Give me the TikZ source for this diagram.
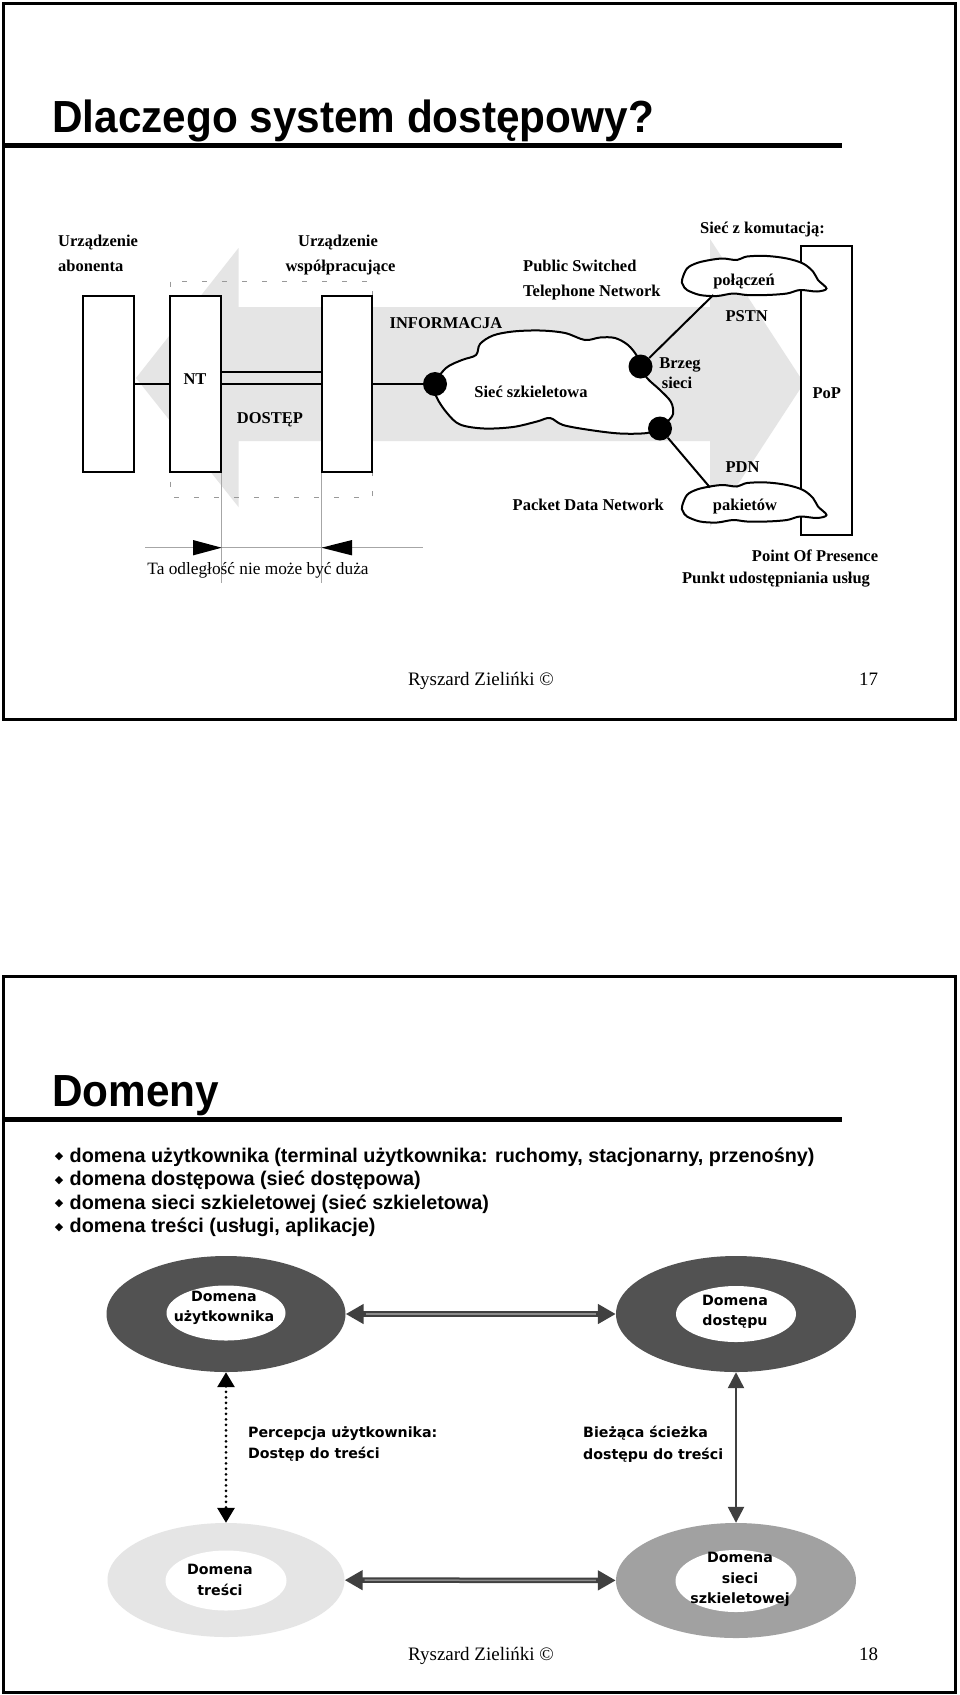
\documentclass[tikz,border=0pt]{standalone}
\usepackage{fontspec}
\setmainfont{Liberation Serif}
\newfontfamily\arialf{Liberation Sans}
\newfontfamily\titlef{Liberation Sans}[FakeStretch=0.94]
\newfontfamily\comicf{DejaVu Sans}
\usetikzlibrary{shapes.geometric,arrows.meta}
\begin{document}
\begin{tikzpicture}[x=1pt,y=-1pt,
  tl/.style={inner sep=0pt,font=\fontsize{16.5}{19.8}\selectfont\bfseries,text height=10.9pt,text depth=0pt},
  tlw/.style={tl,anchor=west},
  tr/.style={inner sep=0pt,font=\fontsize{17.3}{20}\selectfont,text height=11.5pt,text depth=0pt},
  foot/.style={inner sep=0pt,font=\fontsize{19}{22}\selectfont,text height=12.6pt,text depth=0pt},
  ttl/.style={inner sep=0pt,anchor=base west,font=\titlef\bfseries\fontsize{45}{50}\selectfont},
  frame/.style={line width=3pt},
  rule/.style={line width=5pt},
  box/.style={draw,line width=2pt,fill=white,inner sep=0pt,minimum width=50.8pt,minimum height=176.6pt},
  dot/.style={circle,fill=black,inner sep=0pt,minimum size=23pt},
  cloudp/.style={draw,line width=2pt,fill=white},
  bul/.style={inner sep=0pt,anchor=base west,font=\arialf\bfseries\fontsize{19.8}{23}\selectfont},
  bmark/.style={inner sep=0pt,font=\comicf\fontsize{11}{12}\selectfont},
  ring/.style={ellipse,inner sep=0pt},
  hole/.style={ellipse,fill=white,inner sep=0pt},
  cl/.style={inner sep=0pt,align=center,font=\comicf\bfseries\fontsize{14.2}{20.5}\selectfont},
  cll/.style={inner sep=0pt,align=left,anchor=west,font=\comicf\bfseries\fontsize{14.2}{21.7}\selectfont},
  fat/.style={line width=5.5pt,draw=black!75,{Triangle[length=18pt,width=19pt]}-{Triangle[length=18pt,width=19pt]}},
  fatcore/.style={line width=1.5pt,draw=black!45,shorten <=20pt,shorten >=20pt},
  thinarr/.style={line width=2.5pt,draw=black!75,{Triangle[length=16pt,width=16pt]}-{Triangle[length=16pt,width=16pt]}},
  dotarr/.style={line width=3pt,black,dash pattern=on 0pt off 5.5pt,line cap=round,{Triangle[length=15pt,width=17pt]}-{Triangle[length=15pt,width=17pt]}},
]
\useasboundingbox (0,0) rectangle (960,1695);
\fill[white] (0,0) rectangle (960,1695);

% ================= slide 17 =================
\draw[frame] (3,3) rectangle (955.5,719);
\node[ttl] (t1) at (52,132) {Dlaczego system dostępowy?};
\draw[rule] (3,145.5) -- (842,145.5);

% big gray double arrow
\fill[black!10] (136,378) -- (238.5,248) -- (238.5,307) -- (710,307) -- (710,239)
  -- (804,383) -- (710,527) -- (710,441) -- (238.5,441) -- (238.5,507) -- cycle;

% dashed frame
\draw[black!40,line width=1pt,dash pattern=on 5pt off 15pt] (170,281.7) rectangle (372.3,497.7);

% dimension lines
\coordinate (v1t) at (221.7,472.3); \coordinate (v1b) at (221.7,583);
\coordinate (v2t) at (321.5,472.3); \coordinate (v2b) at (321.5,583);
\draw[black!35,line width=1pt] (v1t) -- (v1b);
\draw[black!35,line width=1pt] (v2t) -- (v2b);
\coordinate (hl) at (145,547.7); \coordinate (hr) at (422.5,547.7);
\draw[black!35,line width=1pt] (hl) -- (hr);
\fill (193,540) -- (221.7,547.7) -- (193,555.4) -- cycle;
\fill (352,540) -- (321.5,547.7) -- (352,555.4) -- cycle;

% boxes
\node[box] (b1) at (108.1,384) {};
\node[box] (b2) at (195.85,384) {};
\node[box] (b3) at (346.9,384) {};
\node[box,minimum height=289pt] (pop) at (826.1,390) {};

% backbone cloud
\draw[cloudp] plot[smooth cycle,tension=0.55] coordinates {
 (434,385) (446,368) (462,360) (476,355) (480,344) (493,335.5) (513,331.5) (540,330.5)
 (565,333) (585,340) (600,337.5) (615,338) (628,345) (637,356) (641,366) (647,378)
 (660,390) (671,402) (673,414) (667,422) (660,428) (647,433) (620,433.5) (590,430)
 (563,425) (550,418) (537,421.5) (513,427) (484,428.5) (460,424.5) (447,413) (437,398)};

% small clouds
\draw[cloudp] plot[smooth cycle,tension=0.55] coordinates {
 (682,280) (687,268.5) (697,263) (710,260) (723,258.5) (737,260) (747,256.5) (767,256)
 (787,258.5) (803,263.5) (813,271.5) (818,280) (826.5,288.5) (817,291.5) (800,290)
 (787,293.5) (767,295) (747,295) (733,293.5) (717,296) (700,295) (687,290) (683,285)};
\begin{scope}[shift={(0,226.5)}]
\draw[cloudp] plot[smooth cycle,tension=0.55] coordinates {
 (682,280) (687,268.5) (697,263) (710,260) (723,258.5) (737,260) (747,256.5) (767,256)
 (787,258.5) (803,263.5) (813,271.5) (818,280) (826.5,288.5) (817,291.5) (800,290)
 (787,293.5) (767,295) (747,295) (733,293.5) (717,296) (700,295) (687,290) (683,285)};
\end{scope}
\coordinate (c1s) at (713.3,295);
\coordinate (c2n) at (710,487.5);

% dots
\node[dot,minimum height=24pt] (d1) at (435,384) {};
\node[dot,minimum height=24pt] (d2) at (640.5,366.5) {};
\node[dot,minimum height=24pt] (d3) at (660,428.5) {};

% connectors
\draw[line width=2pt] (b1) -- (b2);
\draw[line width=2pt] (b2) -- (b3);
\draw[line width=2pt] ([yshift=12.3pt]b2.east) -- ([yshift=12.3pt]b3.west);
\draw[line width=2pt] (b3) -- (d1);
\draw[line width=2pt] (d2) -- (c1s);
\draw[line width=2pt] (d3) -- (c2n);

% labels
\node[tlw] (l1) at (58,241) {Urządzenie};
\node[tlw] (l2) at (58,266) {abonenta};
\node[tl] (l3) at (338,241) {Urządzenie};
\node[tl] (l4) at (340.5,266) {współpracujące};
\node[tlw] (l5) at (523,265.7) {Public Switched};
\node[tlw] (l6) at (523,290.7) {Telephone Network};
\node[tl] (l7) at (446,323.3) {INFORMACJA};
\node[tl] (l8) at (195,379.3) {NT};
\node[tl] (l9) at (270,418.3) {DOSTĘP};
\node[tl] (l10) at (531,391.7) {Sieć szkieletowa};
\node[tl] (l11) at (680,363.3) {Brzeg};
\node[tl] (l12) at (677,383.3) {sieci};
\node[tl] (l13) at (762.5,228.3) {Sieć z komutacją:};
\node[tl] (l14) at (744,280) {połączeń};
\node[tl] (l15) at (746.7,316) {PSTN};
\node[tl] (l16) at (826.7,392.7) {PoP};
\node[tl] (l17) at (742.5,466.7) {PDN};
\node[tl] (l18) at (588.3,505) {Packet Data Network};
\node[tl] (l19) at (745,505) {pakietów};
\node[tl] (l20) at (815,556) {Point Of Presence};
\node[tl] (l21) at (776,578.3) {Punkt udostępniania usług};
\node[tr] (l22) at (258,568.3) {Ta odległość nie może być duża};
\node[foot] (f1) at (481,678.7) {Ryszard Zielińki ©};
\node[foot] (f2) at (868.5,678.7) {17};

% ================= slide 18 =================
\draw[frame] (3,976) rectangle (955.5,1692);
\node[ttl] (t2) at (52,1106.5) {Domeny};
\draw[rule] (3,1119) -- (842,1119);

\node[bmark] (m1) at (59,1157) {◆};
\node[bmark] (m2) at (59,1180.5) {◆};
\node[bmark] (m3) at (59,1204) {◆};
\node[bmark] (m4) at (59,1227.5) {◆};
\node[bul] (s1) at (69.5,1162) {domena użytkownika (terminal użytkownika: ruchomy, stacjonarny, przenośny)};
\node[bul] (s2) at (69.5,1185.5) {domena dostępowa (sieć dostępowa)};
\node[bul] (s3) at (69.5,1209) {domena sieci szkieletowej (sieć szkieletowa)};
\node[bul] (s4) at (69.5,1232.5) {domena treści (usługi, aplikacje)};

\node[ring,fill=black!68,minimum width=239pt,minimum height=116pt] (u) at (226,1314) {};
\node[ring,fill=black!68,minimum width=240pt,minimum height=116pt] (a) at (736,1314) {};
\node[ring,fill=black!10,minimum width=237pt,minimum height=114pt] (t) at (226,1580) {};
\node[ring,fill=black!37,minimum width=240pt,minimum height=115pt] (k) at (736,1580.5) {};
\node[hole,minimum width=119pt,minimum height=55pt] (uh) at (226,1313) {};
\node[hole,minimum width=120pt,minimum height=56pt] (ah) at (736,1314) {};
\node[hole,minimum width=121pt,minimum height=60pt] (th) at (226,1580.5) {};
\node[hole,minimum width=121pt,minimum height=62pt] (kh) at (736,1581) {};

\draw[fat] (u) -- (a);
\draw[fat] (t) -- (k);
\draw[fatcore] (u) -- (a);
\draw[fatcore] (t) -- (k);
\draw[thinarr] (a) -- (k);
\draw[dotarr] (u) -- (t);

\node[cl] (ut) at (224,1308) {Domena\\użytkownika};
\node[cl] (at) at (735,1312) {Domena\\dostępu};
\node[cl] (tt) at (220,1580) {Domena\\treści};
\node[cl] (kt) at (740,1579.5) {Domena\\sieci\\szkieletowej};
\node[cll] (p1) at (248,1444) {Percepcja użytkownika:\\Dostęp do treści};
\node[cll] (p2) at (583,1444) {Bieżąca ścieżka\\dostępu do treści};

\node[foot] (f3) at (481,1654.3) {Ryszard Zielińki ©};
\node[foot] (f4) at (868.5,1654.3) {18};
\end{tikzpicture}
\end{document}
